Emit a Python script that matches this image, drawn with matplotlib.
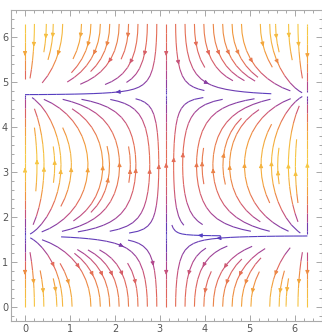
import numpy as np
import matplotlib
matplotlib.use('Agg')
import matplotlib.pyplot as plt
from matplotlib.colors import LinearSegmentedColormap
from matplotlib.ticker import MultipleLocator

# Vector field  v = (k sin x sin y, -cos y) on [0, 2pi] x [0, 2pi]
x_min, x_max = 0.0, 2 * np.pi
y_min, y_max = 0.0, 2 * np.pi
k_horizontal = 0.6

# axis ticks
x_ticks = [0, 1, 2, 3, 4, 5, 6]
y_ticks = [0, 1, 2, 3, 4, 5, 6]

# sunset-like colours, slow -> fast
sunset = ['#4f3ec4', '#7c3ba8', '#b8488a', '#e2685a', '#f29b3a', '#f6c843']
cmap = LinearSegmentedColormap.from_list('sunset', sunset)

xs = np.linspace(x_min, x_max, 200)
ys = np.linspace(y_min, y_max, 200)
X, Y = np.meshgrid(xs, ys)
U = k_horizontal * np.sin(X) * np.sin(Y)
V = -np.cos(Y)
C = np.abs(np.cos(Y)) ** 0.8 * (0.62 + 0.38 * np.cos(X / 2) ** 2)

fig = plt.figure(figsize=(3.22, 3.34), dpi=100)
ax = fig.add_axes([10.9 / 322, 13.2 / 334, 310.6 / 322, 311 / 334])

kw = dict(color=C, cmap=cmap, norm=plt.Normalize(0, 1), density=1.05,
          linewidth=0.8, arrowsize=0.55)
try:
    ax.streamplot(xs, ys, U, V, num_arrows=3, **kw)
except TypeError:
    ax.streamplot(xs, ys, U, V, **kw)

pad = 0.05 * (x_max - x_min)
ax.set_xlim(x_min - pad, x_max + pad)
ax.set_ylim(y_min - pad, y_max + pad)
ax.set_xticks(x_ticks)
ax.set_yticks(y_ticks)
ax.xaxis.set_minor_locator(MultipleLocator(0.2))
ax.yaxis.set_minor_locator(MultipleLocator(0.2))
ax.tick_params(which='both', direction='in', top=True, right=True,
               color='#999999', width=0.6, labelsize=7, labelcolor='#555555', pad=2)
ax.tick_params(which='major', length=4)
ax.tick_params(which='minor', length=2)
for s in ax.spines.values():
    s.set_color('#aaaaaa')
    s.set_linewidth(0.8)

fig.savefig('out.png', dpi=100)
